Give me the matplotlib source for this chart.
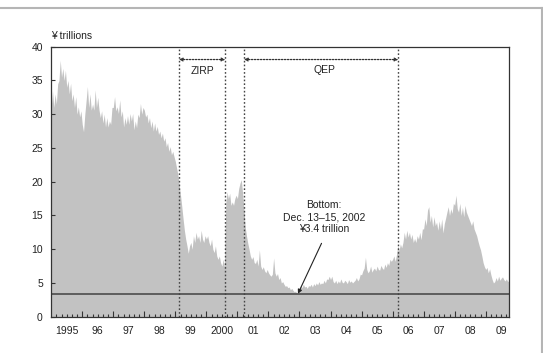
import numpy as np
import matplotlib
matplotlib.use('Agg')
import matplotlib.pyplot as plt
from matplotlib.lines import Line2D

plt.rcParams['font.family'] = ['Liberation Sans', 'DejaVu Sans']
plt.rcParams['font.size'] = 7.5

# current account balances, ¥ trillions, read twice a month off the chart
v1995 = [31, 33.5, 31, 33, 31.5, 34.5, 35, 38, 35.5, 36.8, 35, 36.5,
         34, 35, 33, 34.6, 32, 33, 31, 32.6, 30, 31.1, 29.6, 30.5]
v1996 = [28.5, 27.4, 30, 32, 34.1, 31, 33, 30.6, 31.5, 30.6, 33.6, 31,
         32.5, 30.6, 29.5, 30.5, 28.7, 30, 28.1, 29.5, 28.1, 29, 28.5, 31]
v1997 = [31, 32.6, 30.5, 31.1, 30.1, 32.1, 29.6, 30.5, 28.1, 29.5, 28.5, 29.8,
         28.5, 30.1, 29, 30.1, 27.7, 29, 28, 30, 29.5, 31.6, 30, 31]
v1998 = [30.6, 29.6, 30, 28.7, 29.5, 28, 29, 27.5, 28.7, 27.5, 28.2, 27,
         27.5, 26.5, 27.2, 26, 26.5, 25.2, 25.8, 24.5, 25.2, 24, 24.5, 23.7]
v1999 = [23, 22, 21, 19.5, 18, 16.3, 14.5, 12.8, 11.5, 10.5, 9.4, 10.5,
         11, 10, 12, 11, 12.5, 11.5, 12, 11, 12.8, 11.5, 11, 12]
v2000 = [11.5, 12, 11, 10.5, 11.5, 10, 9.5, 10.5, 9, 8.5, 9, 8,
         7.5, 8.5, 7.4, 16.8, 18.5, 17.5, 18.3, 16.5, 17, 16.5, 17.5, 18]
v2001 = [17.5, 19, 19.8, 20.3, 18.3, 16, 13.3, 12, 10.9, 10, 9, 8.5,
         8.9, 8, 7.9, 8.5, 7.5, 9.9, 7.5, 7, 7.4, 6.8, 6.5, 7]
v2002 = [6.5, 6.2, 6, 6.3, 8.7, 6.5, 6, 6.4, 5.5, 5.8, 5, 5.2,
         4.8, 4.5, 4.6, 4.3, 4.4, 4.0, 4.2, 3.9, 3.7, 3.8, 3.4, 3.8]
v2003 = [4.2, 4.6, 4.3, 4.8, 4.4, 4.5, 4.2, 4.6, 4.5, 4.8, 4.4, 4.9,
         4.6, 5, 4.7, 5.2, 4.8, 5.0, 4.9, 5.4, 5.0, 5.6, 5.5, 6.0]
v2004 = [5.5, 6.0, 5.2, 5.0, 5.4, 4.9, 5.3, 5.0, 5.6, 5.1, 5.0, 5.4,
         5.2, 4.9, 5.5, 5.1, 5.3, 5.0, 5.2, 5.4, 5.8, 5.3, 5.6, 6.3]
v2005 = [6.2, 6.8, 7.2, 8.8, 7.0, 6.5, 6.8, 7.5, 6.6, 7.0, 7.2, 6.8,
         7.5, 7.0, 6.9, 7.6, 7.2, 7.0, 7.8, 7.3, 8.0, 7.6, 8.5, 8.2]
v2006 = [8.5, 9.0, 8.2, 9.2, 10.5, 9.8, 10.8, 10.2, 11.0, 12.5, 11.5, 12.8,
         11.8, 12.5, 11.5, 12.2, 11.0, 11.6, 11.0, 12.0, 11.5, 12.5, 11.4, 13.0]
v2007 = [13.0, 14.5, 13.5, 15.8, 16.3, 14.0, 15.0, 13.3, 14.8, 13.5, 14.0, 12.8,
         14.2, 13.0, 14.5, 12.4, 13.8, 14.6, 15.5, 16.3, 15.0, 16.0, 15.3, 16.8]
v2008 = [16.5, 18.0, 16.0, 15.5, 16.8, 15.0, 16.2, 14.8, 16.5, 15.5, 15.0, 14.5,
         14.0, 13.5, 14.2, 13.0, 12.5, 12.0, 11.2, 10.5, 9.9, 9.0, 8.0, 7.4]
v2009 = [7.0, 7.3, 6.5, 7.1, 6.2, 5.5, 5.0, 5.2, 5.8, 5.3, 6.0, 5.4,
         5.7, 5.9, 5.5, 5.3, 5.6, 5.2, 5.4]

years = list(range(1995, 2010))
year_labels = ['1995', '96', '97', '98', '99', '2000', '01', '02', '03',
               '04', '05', '06', '07', '08', '09']

zirp = (1999.115, 2000.609)   # Feb 12, 1999 - Aug 11, 2000
qep = (2001.211, 2006.184)    # Mar 19, 2001 - Mar 9, 2006
bottom_date = 2002.95         # Dec 13-15, 2002
bottom_value = 3.4

vals = np.array(v1995 + v1996 + v1997 + v1998 + v1999 + v2000 + v2001 + v2002
                + v2003 + v2004 + v2005 + v2006 + v2007 + v2008 + v2009)
t = 1995 + np.arange(len(vals)) / 24.0

fig = plt.figure(figsize=(5.43, 3.53), dpi=100)
ax = fig.add_axes([51.2 / 543, 36.3 / 353, 458.1 / 543, 270.0 / 353])

ax.fill_between(t, 0, vals, color='#c2c2c2', lw=0)
ax.axhline(bottom_value, color='#555555', lw=1.3)
for d in zirp + qep:
    ax.axvline(d, color='#444444', lw=1.0, ls=(0, (1.2, 1.5)))

ax.set_xlim(1995, 2009.76)
ax.set_ylim(0, 40)

# arrows for the policy periods
arrow_y = 38.1
for span in (zirp, qep):
    ax.annotate('', xy=(span[1], arrow_y), xytext=(span[0], arrow_y),
                arrowprops=dict(arrowstyle='<|-|>', ls=(0, (1.2, 1.2)), lw=0.9,
                                color='#333333', mutation_scale=5,
                                shrinkA=0, shrinkB=0))
ax.text(sum(zirp) / 2, 36.4, 'ZIRP', ha='center', va='center', color='#222222')
ax.text(sum(qep) / 2 + 0.1, 36.6, 'QEP', ha='center', va='center', color='#222222')

ax.text(2003.79, 14.77, 'Bottom:\nDec. 13\u201315, 2002\n\u00a53.4 trillion',
        ha='center', va='center', linespacing=1.25, color='#222222')
ax.annotate('', xy=(bottom_date, bottom_value), xytext=(2003.71, 10.87),
            arrowprops=dict(arrowstyle='-|>', lw=0.8, color='#222222',
                            mutation_scale=6, shrinkA=0, shrinkB=0))

ax.text(0, 1.04, '\u00a5 trillions', transform=ax.transAxes, ha='left',
        va='center', color='#222222')

ax.set_yticks(range(0, 41, 5))
ax.tick_params(axis='y', direction='in', length=3, width=0.8, pad=6,
               color='#333333', labelcolor='#222222')

ax.set_xticks(years[1:])
ax.set_xticks([y + k / 6 for y in years for k in range(1, 6) if y + k / 6 < 2009.76],
              minor=True)
ax.tick_params(axis='x', which='major', direction='in', length=4, width=0.8,
               labelbottom=False, color='#333333')
ax.tick_params(axis='x', which='minor', direction='in', length=2, width=0.8,
               color='#333333')

sec = ax.secondary_xaxis('bottom')
sec.set_xticks([y + 0.5 for y in years], year_labels)
sec.tick_params(length=0, pad=7, colors='#222222')
sec.spines['bottom'].set_visible(False)

for s in ax.spines.values():
    s.set_color('#333333')
    s.set_linewidth(0.9)

# light frame around the figure
fx = 541.5 / 543
fy = 1 - 7.5 / 353
fig.add_artist(Line2D([0, fx], [fy, fy], transform=fig.transFigure,
                      color='#b5b5b5', lw=1.5))
fig.add_artist(Line2D([fx, fx], [0, fy], transform=fig.transFigure,
                      color='#b5b5b5', lw=1.5))

fig.savefig('out.png', dpi=100)
